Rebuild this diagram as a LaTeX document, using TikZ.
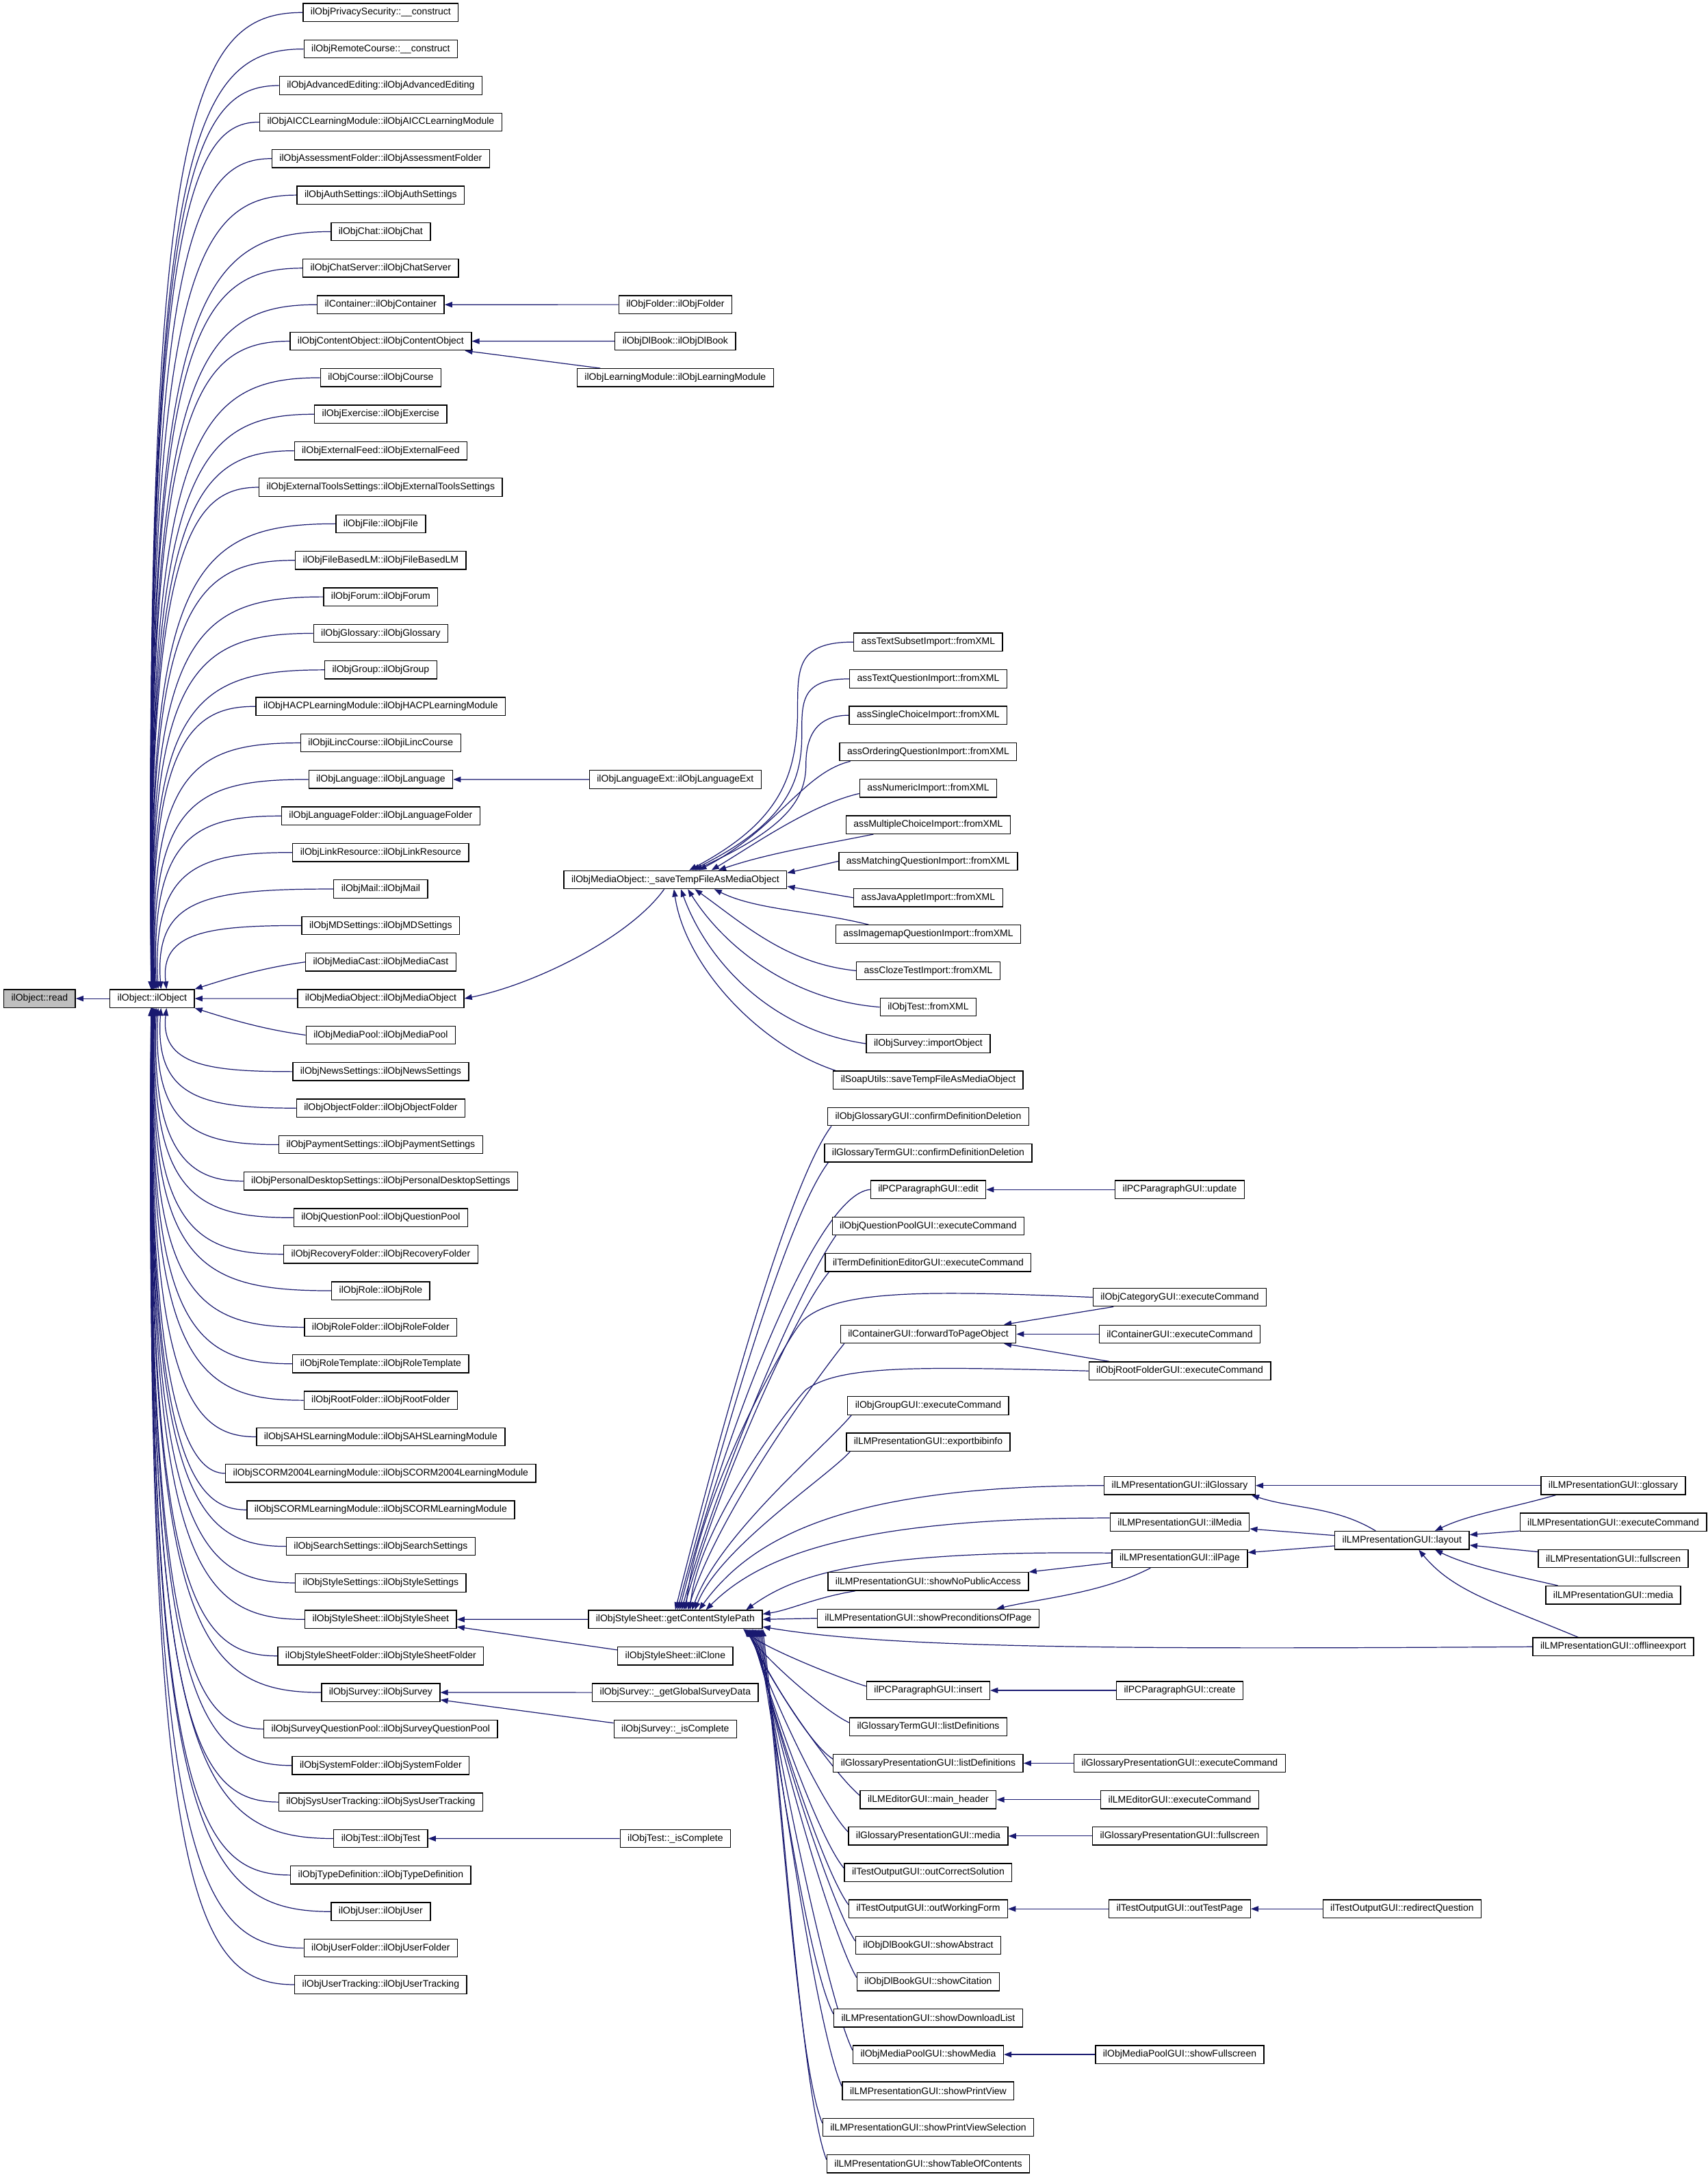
\documentclass[tikz,border=0pt]{standalone}
\usepackage{fontspec}
\setmainfont{Liberation Sans}
\usetikzlibrary{arrows.meta,calc}
\definecolor{navy}{HTML}{191970}
\definecolor{readgray}{HTML}{BFBFBF}
\pgfdeclarelayer{bg}
\pgfsetlayers{bg,main}
\tikzset{
  box/.style={draw=black, line width=0.65pt, fill=white, inner xsep=5.4pt, inner ysep=0pt, minimum height=13pt, font=\fontsize{6.9}{8}\selectfont},
  e/.style={draw=navy, line width=0.6pt, -{Triangle[length=5.5pt,width=4pt,fill=navy]}},
}
\begin{document}
\begin{tikzpicture}[x=1pt,y=-1pt]
\useasboundingbox (0,0) rectangle (1229,1568);
% column 0/1
\node[box,fill=readgray] (read) at (28.5,718.56) {ilObject::read};
\node[box] (obj) at (109.5,718.56) {ilObject::ilObject};
% column 2
\foreach \i/\t in {
1/{ilObjPrivacySecurity::\_\_construct},
2/{ilObjRemoteCourse::\_\_construct},
3/{ilObjAdvancedEditing::ilObjAdvancedEditing},
4/{ilObjAICCLearningModule::ilObjAICCLearningModule},
5/{ilObjAssessmentFolder::ilObjAssessmentFolder},
6/{ilObjAuthSettings::ilObjAuthSettings},
7/{ilObjChat::ilObjChat},
8/{ilObjChatServer::ilObjChatServer},
9/{ilContainer::ilObjContainer},
10/{ilObjContentObject::ilObjContentObject},
11/{ilObjCourse::ilObjCourse},
12/{ilObjExercise::ilObjExercise},
13/{ilObjExternalFeed::ilObjExternalFeed},
14/{ilObjExternalToolsSettings::ilObjExternalToolsSettings},
15/{ilObjFile::ilObjFile},
16/{ilObjFileBasedLM::ilObjFileBasedLM},
17/{ilObjForum::ilObjForum},
18/{ilObjGlossary::ilObjGlossary},
19/{ilObjGroup::ilObjGroup},
20/{ilObjHACPLearningModule::ilObjHACPLearningModule},
21/{ilObjiLincCourse::ilObjiLincCourse},
22/{ilObjLanguage::ilObjLanguage},
23/{ilObjLanguageFolder::ilObjLanguageFolder},
24/{ilObjLinkResource::ilObjLinkResource},
25/{ilObjMail::ilObjMail},
26/{ilObjMDSettings::ilObjMDSettings},
27/{ilObjMediaCast::ilObjMediaCast},
28/{ilObjMediaObject::ilObjMediaObject},
29/{ilObjMediaPool::ilObjMediaPool},
30/{ilObjNewsSettings::ilObjNewsSettings},
31/{ilObjObjectFolder::ilObjObjectFolder},
32/{ilObjPaymentSettings::ilObjPaymentSettings},
33/{ilObjPersonalDesktopSettings::ilObjPersonalDesktopSettings},
34/{ilObjQuestionPool::ilObjQuestionPool},
35/{ilObjRecoveryFolder::ilObjRecoveryFolder},
36/{ilObjRole::ilObjRole},
37/{ilObjRoleFolder::ilObjRoleFolder},
38/{ilObjRoleTemplate::ilObjRoleTemplate},
39/{ilObjRootFolder::ilObjRootFolder},
40/{ilObjSAHSLearningModule::ilObjSAHSLearningModule},
41/{ilObjSCORM2004LearningModule::ilObjSCORM2004LearningModule},
42/{ilObjSCORMLearningModule::ilObjSCORMLearningModule},
43/{ilObjSearchSettings::ilObjSearchSettings},
44/{ilObjStyleSettings::ilObjStyleSettings},
45/{ilObjStyleSheet::ilObjStyleSheet},
46/{ilObjStyleSheetFolder::ilObjStyleSheetFolder},
47/{ilObjSurvey::ilObjSurvey},
48/{ilObjSurveyQuestionPool::ilObjSurveyQuestionPool},
49/{ilObjSystemFolder::ilObjSystemFolder},
50/{ilObjSysUserTracking::ilObjSysUserTracking},
51/{ilObjTest::ilObjTest},
52/{ilObjTypeDefinition::ilObjTypeDefinition},
53/{ilObjUser::ilObjUser},
54/{ilObjUserFolder::ilObjUserFolder},
55/{ilObjUserTracking::ilObjUserTracking}}
  \node[box] (L\i) at (274,{9+26.28*(\i-1)}) {\t};
% column 3
\node[box] (F1) at (486,219.2) {ilObjFolder::ilObjFolder};
\node[box] (F2) at (486,245.5) {ilObjDlBook::ilObjDlBook};
\node[box] (F3) at (486,271.8) {ilObjLearningModule::ilObjLearningModule};
\node[box] (F4) at (486,560.9) {ilObjLanguageExt::ilObjLanguageExt};
\node[box] (S) at (486,633) {ilObjMediaObject::\_saveTempFileAsMediaObject};
\node[box] (G) at (486,1165.3) {ilObjStyleSheet::getContentStylePath};
\node[box] (F5) at (486,1191.6) {ilObjStyleSheet::ilClone};
\node[box] (F6) at (486,1217.9) {ilObjSurvey::\_getGlobalSurveyData};
\node[box] (F7) at (486,1244.2) {ilObjSurvey::\_isComplete};
\node[box] (F8) at (486,1323.0) {ilObjTest::\_isComplete};
% column 4
\foreach \n/\y/\t in {
A1/462/{assTextSubsetImport::fromXML},
A2/488.5/{assTextQuestionImport::fromXML},
A3/514.7/{assSingleChoiceImport::fromXML},
A4/541/{assOrderingQuestionImport::fromXML},
A5/567.2/{assNumericImport::fromXML},
A6/593.5/{assMultipleChoiceImport::fromXML},
A7/619.7/{assMatchingQuestionImport::fromXML},
A8/646/{assJavaAppletImport::fromXML},
A9/672.2/{assImagemapQuestionImport::fromXML},
A10/698.5/{assClozeTestImport::fromXML},
A11/724.7/{ilObjTest::fromXML},
A12/751/{ilObjSurvey::importObject},
A13/777.2/{ilSoapUtils::saveTempFileAsMediaObject},
B1/803.5/{ilObjGlossaryGUI::confirmDefinitionDeletion},
B2/829.7/{ilGlossaryTermGUI::confirmDefinitionDeletion},
B3/856/{ilPCParagraphGUI::edit},
B4/882.2/{ilObjQuestionPoolGUI::executeCommand},
B5/908.5/{ilTermDefinitionEditorGUI::executeCommand},
B6/960/{ilContainerGUI::forwardToPageObject},
B7/1011.5/{ilObjGroupGUI::executeCommand},
B8/1037.7/{ilLMPresentationGUI::exportbibinfo},
B9/1138/{ilLMPresentationGUI::showNoPublicAccess},
B10/1164.5/{ilLMPresentationGUI::showPreconditionsOfPage},
B11/1216.4/{ilPCParagraphGUI::insert},
B12/1242.6/{ilGlossaryTermGUI::listDefinitions},
B13/1268.8/{ilGlossaryPresentationGUI::listDefinitions},
B14/1295/{ilLMEditorGUI::main\_header},
B15/1321.2/{ilGlossaryPresentationGUI::media},
B16/1347.4/{ilTestOutputGUI::outCorrectSolution},
B17/1373.6/{ilTestOutputGUI::outWorkingForm},
B18/1399.8/{ilObjDlBookGUI::showAbstract},
B19/1426/{ilObjDlBookGUI::showCitation},
B20/1452.2/{ilLMPresentationGUI::showDownloadList},
B21/1478.4/{ilObjMediaPoolGUI::showMedia},
B22/1504.6/{ilLMPresentationGUI::showPrintView},
B23/1530.8/{ilLMPresentationGUI::showPrintViewSelection},
B24/1557/{ilLMPresentationGUI::showTableOfContents}}
  \node[box] (\n) at (668,\y) {\t};
% column 5
\foreach \n/\y/\t in {
C1/856/{ilPCParagraphGUI::update},
C2/933.5/{ilObjCategoryGUI::executeCommand},
C3/960/{ilContainerGUI::executeCommand},
C4/986.5/{ilObjRootFolderGUI::executeCommand},
C5/1069/{ilLMPresentationGUI::ilGlossary},
C6/1095.3/{ilLMPresentationGUI::ilMedia},
C7/1121.5/{ilLMPresentationGUI::ilPage},
C8/1216.4/{ilPCParagraphGUI::create},
C9/1268.8/{ilGlossaryPresentationGUI::executeCommand},
C10/1295/{ilLMEditorGUI::executeCommand},
C11/1321.2/{ilGlossaryPresentationGUI::fullscreen},
C12/1373.6/{ilTestOutputGUI::outTestPage},
C13/1478.4/{ilObjMediaPoolGUI::showFullscreen}}
  \node[box] (\n) at (849,\y) {\t};
% column 6
\node[box] (D1) at (1009,1108.4) {ilLMPresentationGUI::layout};
\node[box] (D2) at (1009,1373.6) {ilTestOutputGUI::redirectQuestion};
% column 7
\foreach \n/\y/\t in {
E1/1069/{ilLMPresentationGUI::glossary},
E2/1095.3/{ilLMPresentationGUI::executeCommand},
E3/1121.5/{ilLMPresentationGUI::fullscreen},
E4/1147.8/{ilLMPresentationGUI::media},
E5/1185/{ilLMPresentationGUI::offlineexport}}
  \node[box] (\n) at (1161,\y) {\t};

\begin{pgfonlayer}{bg}
\fill[white] (0,0) rectangle (1229,1568);
\draw[e] (obj.west) -- (read.east);
% edges into ilObject
\foreach \i in {1,...,26}{
  \pgfmathsetmacro\yy{9+26.28*(\i-1)}
  \pgfmathsetmacro\dd{28-\i}
  \pgfmathsetmacro\xe{108+24/\dd}
  \pgfmathsetmacro\cy{\yy+0.1*(711.5-\yy)}
  \draw[e] (L\i.west) .. controls ({\xe+30},\yy) and ({\xe-5},\cy) .. ($(obj.north west)+({\xe-79},0)$);
}
\draw[e] (L27.west) .. controls +(-30,4) and +(25,-8) .. (obj.north east);
\draw[e] (L28.west) -- (obj.east);
\draw[e] (L29.west) .. controls +(-30,-4) and +(25,8) .. (obj.south east);
\foreach \i in {30,...,55}{
  \pgfmathsetmacro\yy{9+26.28*(\i-1)}
  \pgfmathsetmacro\dd{\i-28}
  \pgfmathsetmacro\xe{108+24/\dd}
  \pgfmathsetmacro\cy{\yy-0.1*(\yy-725)}
  \draw[e] (L\i.west) .. controls ({\xe+30},\yy) and ({\xe-5},\cy) .. ($(obj.south west)+({\xe-79},0)$);
}
% column 3 -> column 2
\draw[e] (F1.west) -- (L9.east);
\draw[e] (F2.west) -- (L10.east);
\draw[e] ($(F3.north west)+(17,0)$) -- ($(L10.south east)+(-5,0)$);
\draw[e] (F4.west) -- (L22.east);
\draw[e] ($(S.south)+(-8,0)$) .. controls +(-25,35) and +(50,-10) .. (L28.east);
\draw[e] (G.west) -- (L45.east);
\draw[e] ($(F5.north west)+(0,2.5)$) -- ($(L45.south east)+(0,-1.5)$);
\draw[e] (F6.west) -- (L47.east);
\draw[e] ($(F7.north west)+(0,2.5)$) -- ($(L47.south east)+(0,-1.5)$);
\draw[e] (F8.west) -- (L51.east);
% column 4 -> saveTemp
\draw[e] (A1.west) .. controls +(-40,0) and (574,480) .. (574,510) .. controls (574,560) and (560,592) .. ($(S.north)+(10,0)$);
\draw[e] (A2.west) .. controls +(-35,0) and (577,505) .. (577,530) .. controls (577,565) and (563,594) .. ($(S.north)+(12,0)$);
\draw[e] (A3.west) .. controls +(-22,0) and (580,528) .. (580,550) .. controls (580,575) and (566,596) .. ($(S.north)+(14,0)$);
\draw[e] ($(A4.south west)+(8,0)$) .. controls (578,556) and (560,596) .. ($(S.north)+(17,0)$);
\draw[e] ($(A5.south west)+(0,-3)$) .. controls +(-35,8) and +(30,-18) .. ($(S.north)+(26,0)$);
\draw[e] ($(A6.south west)+(20,0)$) .. controls +(-40,8) and +(35,-12) .. ($(S.north)+(31,0)$);
\draw[e] (A7.west) -- ($(S.north east)+(0,2)$);
\draw[e] (A8.west) -- ($(S.south east)+(0,-2)$);
\draw[e] ($(A9.north west)+(24,0)$) .. controls +(-40,-10) and +(30,15) .. ($(S.south)+(28,0)$);
\draw[e] (A10.west) .. controls +(-50,-5) and +(35,25) .. ($(S.south)+(14,0)$);
\draw[e] (A11.west) .. controls +(-65,-5) and +(25,40) .. ($(S.south)+(9,0)$);
\draw[e] (A12.west) .. controls +(-70,-10) and +(18,50) .. ($(S.south)+(4,0)$);
\draw[e] ($(A13.north west)+(2,0)$) .. controls +(-55,-18) and +(8,55) .. ($(S.south)+(-1,0)$);
% column 4/5 -> getContentStylePath (top)
\draw[e] ($(B1.south west)+(3,0)$) .. controls +(-30,40) and +(35,-140) .. (G.north);
\draw[e] ($(B2.south west)+(3,0)$) .. controls +(-30,40) and +(33,-125) .. ($(G.north)+(1.5,0)$);
\draw[e] (B3.west) .. controls +(-40,3) and +(30,-120) .. ($(G.north)+(3,0)$);
\draw[e] ($(B4.south west)+(3,0)$) .. controls +(-25,35) and +(28,-100) .. ($(G.north)+(4.5,0)$);
\draw[e] ($(B5.south west)+(3,0)$) .. controls +(-25,30) and +(25,-90) .. ($(G.north)+(6,0)$);
\draw[e] (C2.west) .. controls +(-120,-5) and +(25,-22) .. (578,950) .. controls +(-12,12) and +(8,-80) .. ($(G.north)+(7.5,0)$);
\draw[e] ($(B6.south west)+(3,0)$) .. controls +(-20,25) and +(22,-70) .. ($(G.north)+(9,0)$);
\draw[e] (C4.west) .. controls +(-120,-3) and +(25,-18) .. (580,1000) .. controls +(-12,12) and +(6,-60) .. ($(G.north)+(10.5,0)$);
\draw[e] ($(B7.south west)+(3,0)$) .. controls +(-18,22) and +(20,-55) .. ($(G.north)+(12,0)$);
\draw[e] ($(B8.south west)+(3,0)$) .. controls +(-16,18) and +(18,-45) .. ($(G.north)+(14,0)$);
\draw[e] (C5.west) .. controls +(-180,0) and +(40,-55) .. ($(G.north)+(17,0)$);
\draw[e] ($(C6.west)+(0,-3)$) .. controls +(-180,0) and +(40,-40) .. ($(G.north)+(22,0)$);
\draw[e] ($(C7.west)+(0,-4)$) .. controls +(-180,-2) and +(35,-25) .. ($(G.north east)+(-12,0)$);
\draw[e] ($(B9.south west)+(20,0)$) .. controls +(-30,5) and +(20,-3) .. ($(G.north east)+(0,3)$);
\draw[e] (B10.west) -- (G.east);
\draw[e] (E5.west) .. controls (800,1187) and (640,1186) .. ($(G.south east)+(0,-1.5)$);
% lower group -> getContentStylePath (bottom)
\foreach \k/\yk in {11/1216.4,12/1242.6,13/1268.8,14/1295,15/1321.2,16/1347.4,17/1373.6,18/1399.8,19/1426,20/1452.2,21/1478.4,22/1504.6,23/1530.8,24/1557}{
  \pgfmathsetmacro\dx{14-(\k-11)*14/13}
  \pgfmathsetmacro\ha{-0.12*(\yk-1172)}
  \pgfmathsetmacro\hb{0.3*(\yk-1172)}
  \draw[e] ($(B\k.west)+(0,-3)$) .. controls +(-18,\ha) and +(14,\hb) .. ($(G.south east)+(-\dx,0)$);
}
% column 5 -> column 4
\draw[e] (C1.west) -- (B3.east);
\draw[e] ($(C2.south west)+(15,0)$) -- ($(B6.north east)+(-9,0)$);
\draw[e] (C3.west) -- (B6.east);
\draw[e] ($(C4.north west)+(15,0)$) -- ($(B6.south east)+(-9,0)$);
\draw[e] ($(C7.west)+(0,3)$) -- (B9.north east);
\draw[e] ($(C7.south west)+(28,0)$) .. controls +(-35,18) and +(35,-8) .. ($(B10.north east)+(-31,0)$);
\draw[e] (C8.west) -- (B11.east);
\draw[e] (C9.west) -- (B13.east);
\draw[e] (C10.west) -- (B14.east);
\draw[e] (C11.west) -- (B15.east);
\draw[e] (C12.west) -- (B17.east);
\draw[e] (D2.west) -- (C12.east);
\draw[e] (C13.west) -- (B21.east);
% layout
\draw[e] ($(D1.north)+(-19,0)$) .. controls +(-30,-18) and +(30,10) .. ($(C5.south east)+(-3,0)$);
\draw[e] ($(D1.west)+(0,-3.5)$) -- ($(C6.south east)+(0,-2)$);
\draw[e] ($(D1.west)+(0,4)$) -- ($(C7.north east)+(0,2.5)$);
\draw[e] (E1.west) -- (C5.east);
\draw[e] ($(E1.south west)+(11,0)$) .. controls +(-35,10) and +(25,-12) .. ($(D1.north east)+(-25,0)$);
\draw[e] ($(E2.south west)+(0,-0.5)$) -- ($(D1.east)+(0,-4)$);
\draw[e] ($(E3.north west)+(0,2)$) -- ($(D1.east)+(0,3.5)$);
\draw[e] ($(E4.north west)+(9,0)$) .. controls +(-35,-8) and +(25,12) .. ($(D1.south east)+(-25,0)$);
\draw[e] ($(E5.north west)+(33,0)$) .. controls +(-60,-25) and +(25,30) .. ($(D1.south)+(12,0)$);
\end{pgfonlayer}
\end{tikzpicture}
\end{document}
